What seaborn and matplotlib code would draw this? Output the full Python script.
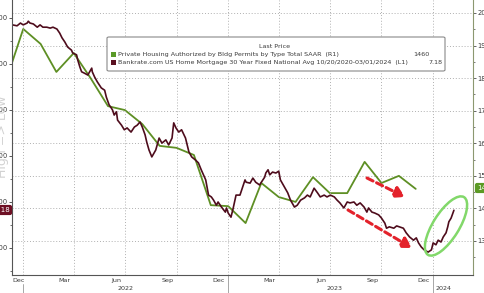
import matplotlib
matplotlib.use("Agg")
import matplotlib.pyplot as plt
import matplotlib.dates as mdates
import matplotlib.transforms as mtransforms
from matplotlib.patches import Ellipse, FancyBboxPatch, Rectangle
from matplotlib.ticker import NullFormatter, FixedLocator
import pandas as pd
import seaborn as sns

sns.set_style("white")
plt.rcParams['font.family'] = ['DejaVu Sans']

# ---------------- data ----------------
mort_dates = [
    "2021-12-13", "2021-12-21", "2021-12-27", "2022-01-01", "2022-01-08", "2022-01-10",
    "2022-01-13", "2022-01-19", "2022-01-26", "2022-01-31", "2022-02-05", "2022-02-12",
    "2022-02-18", "2022-02-23", "2022-03-02", "2022-03-07", "2022-03-11", "2022-03-16",
    "2022-03-21", "2022-03-28", "2022-03-30", "2022-04-06", "2022-04-08", "2022-04-12",
    "2022-04-15", "2022-04-20", "2022-04-26", "2022-05-03", "2022-05-04", "2022-05-08",
    "2022-05-13", "2022-05-20", "2022-05-26", "2022-05-29", "2022-06-03", "2022-06-07",
    "2022-06-09", "2022-06-12", "2022-06-16", "2022-06-18", "2022-06-25", "2022-06-30",
    "2022-07-05", "2022-07-12", "2022-07-18", "2022-07-23", "2022-07-28", "2022-08-01",
    "2022-08-06", "2022-08-09", "2022-08-13", "2022-08-18", "2022-08-25", "2022-08-31",
    "2022-09-05", "2022-09-12", "2022-09-17", "2022-09-23", "2022-09-26", "2022-09-30",
    "2022-10-05", "2022-10-10", "2022-10-17", "2022-10-23", "2022-10-28", "2022-11-04",
    "2022-11-09", "2022-11-14", "2022-11-22", "2022-11-27", "2022-12-02", "2022-12-06",
    "2022-12-11", "2022-12-14", "2022-12-20", "2022-12-27", "2022-12-29", "2023-01-01",
    "2023-01-06", "2023-01-10", "2023-01-13", "2023-01-15", "2023-01-22", "2023-01-27",
    "2023-01-31", "2023-02-02", "2023-02-09", "2023-02-14", "2023-02-19", "2023-02-26",
    "2023-02-28", "2023-03-07", "2023-03-09", "2023-03-13", "2023-03-16", "2023-03-21",
    "2023-03-27", "2023-04-01", "2023-04-04", "2023-04-11", "2023-04-17", "2023-04-22",
    "2023-04-29", "2023-05-04", "2023-05-10", "2023-05-17", "2023-05-22", "2023-05-27",
    "2023-06-03", "2023-06-09", "2023-06-14", "2023-06-21", "2023-06-26", "2023-07-02",
    "2023-07-09", "2023-07-14", "2023-07-19", "2023-07-26", "2023-08-01", "2023-08-06",
    "2023-08-13", "2023-08-18", "2023-08-24", "2023-08-31", "2023-09-05", "2023-09-08",
    "2023-09-14", "2023-09-19", "2023-09-26", "2023-10-01", "2023-10-07", "2023-10-10",
    "2023-10-15", "2023-10-23", "2023-10-28", "2023-11-02", "2023-11-09", "2023-11-14",
    "2023-11-20", "2023-11-27", "2023-12-02", "2023-12-06", "2023-12-11", "2023-12-16",
    "2023-12-23", "2023-12-29", "2024-01-01", "2024-01-06", "2024-01-10", "2024-01-15",
    "2024-01-19", "2024-01-24", "2024-01-27", "2024-01-29", "2024-02-02", "2024-02-07",
]
mort_rate = [
    3.15, 3.17, 3.11, 3.15, 3.11, 3.07,
    3.11, 3.13, 3.20, 3.15, 3.20, 3.20,
    3.22, 3.20, 3.24, 3.33, 3.43, 3.52,
    3.63, 3.70, 3.76, 3.80, 3.91, 4.07,
    4.17, 4.20, 4.24, 4.09, 4.17, 4.28,
    4.39, 4.52, 4.57, 4.72, 4.89, 4.96,
    5.00, 5.11, 5.04, 5.22, 5.33, 5.43,
    5.39, 5.48, 5.37, 5.33, 5.26, 5.37,
    5.54, 5.70, 5.87, 6.02, 5.87, 5.61,
    5.72, 5.65, 5.76, 5.61, 5.28, 5.39,
    5.48, 5.43, 5.61, 5.91, 6.02, 6.09,
    6.15, 6.30, 6.52, 6.85, 6.89, 6.96,
    7.07, 7.00, 7.11, 7.22, 7.13, 7.24,
    7.33, 7.13, 6.96, 6.85, 6.85, 6.67,
    6.52, 6.57, 6.59, 6.48, 6.57, 6.63,
    6.59, 6.46, 6.37, 6.30, 6.41, 6.35,
    6.37, 6.33, 6.52, 6.67, 6.80, 6.96,
    7.11, 7.07, 6.96, 6.91, 6.85, 6.89,
    6.70, 6.80, 6.89, 6.85, 6.89, 6.85,
    6.89, 6.96, 7.02, 7.13, 7.00, 7.02,
    7.00, 7.07, 7.02, 7.11, 7.22, 7.13,
    7.22, 7.24, 7.28, 7.35, 7.46, 7.57,
    7.54, 7.57, 7.52, 7.54, 7.57, 7.67,
    7.76, 7.83, 7.78, 7.89, 7.98, 8.04,
    8.09, 8.04, 7.89, 7.93, 7.83, 7.87,
    7.76, 7.67, 7.54, 7.43, 7.35, 7.18,
]
permit_dates = [
    "2021-12-01", "2022-01-01", "2022-02-01", "2022-03-01", "2022-04-01", "2022-05-01",
    "2022-06-01", "2022-07-01", "2022-08-01", "2022-09-01", "2022-10-01", "2022-11-01",
    "2022-12-01", "2023-01-01", "2023-02-01", "2023-03-01", "2023-04-01", "2023-05-01",
    "2023-06-01", "2023-07-01", "2023-08-01", "2023-09-01", "2023-10-01", "2023-11-01",
    "2023-12-01",
]
permit_vals = [
    1790, 1951, 1905, 1819, 1877, 1800,
    1714, 1702, 1659, 1592, 1586, 1564,
    1410, 1407, 1355, 1478, 1435, 1420,
    1496, 1447, 1447, 1543, 1478, 1500,
    1460,
]
left_ticks = [3, 4, 5, 6, 7, 8]
left_labels = ["3.00", "4.00", "5.00", "6.00", "7.00", "8.00"]
right_ticks = [1300, 1400, 1500, 1600, 1700, 1800, 1900, 2000]
right_labels = ["1300", "1400", "1500", "1600", "1700", "1800", "1900", "2000"]
month_labels = [("2021-12-24", "Dec"), ("2022-03-15", "Mar"), ("2022-06-15", "Jun"),
                ("2022-09-15", "Sep"), ("2022-12-15", "Dec"), ("2023-03-15", "Mar"),
                ("2023-06-15", "Jun"), ("2023-09-15", "Sep"), ("2023-12-15", "Dec")]
year_labels = [("2022-07-02", "2022"), ("2023-07-10", "2023"), ("2024-01-20", "2024")]
year_starts = ["2022-01-01", "2023-01-01", "2024-01-01"]
legend_rows = [
    ("Private Housing Authorized by Bldg Permits by Type Total SAAR  (R1)", "1460"),
    ("Bankrate.com US Home Mortgage 30 Year Fixed National Avg 10/20/2020-03/01/2024  (L1)", "7.18"),
]

GREEN = "#5e8f24"
MAROON = "#4e0c1c"
TXT = "#3a3a3a"
FS = 4.6

mort = pd.DataFrame({"date": pd.to_datetime(mort_dates), "rate": mort_rate})
perm = pd.DataFrame({"date": pd.to_datetime(permit_dates), "value": permit_vals})

W, H = 485, 293
fig = plt.figure(figsize=(W / 100, H / 100), dpi=100)
fig.patch.set_facecolor("white")
ax = fig.add_axes([12 / W, 18 / H, 461 / W, 275 / H])
ax2 = ax.twinx()

sns.lineplot(data=perm, x="date", y="value", ax=ax2, color=GREEN, linewidth=1.3)
sns.lineplot(data=mort, x="date", y="rate", ax=ax, color=MAROON, linewidth=1.2)

ax.set_zorder(ax2.get_zorder() + 1)
ax.patch.set_visible(False)
ax2.patch.set_visible(True)
ax2.patch.set_facecolor("white")

ax.set_xlim(pd.Timestamp("2021-12-12"), pd.Timestamp("2024-03-12"))
ax.set_ylim(8.587, 2.609)
ax2.set_ylim(1195.6, 2039.9)

for a in (ax, ax2):
    a.set_xlabel("")
    a.set_ylabel("")
    a.spines["top"].set_visible(False)

# x axis
ax.xaxis.set_major_locator(mdates.MonthLocator(bymonth=[1, 4, 7, 10]))
ax.xaxis.set_major_formatter(NullFormatter())
ax.xaxis.set_minor_locator(mdates.MonthLocator())
ax.tick_params(axis="x", which="major", direction="in", length=3, color="#666", width=0.6)
ax.tick_params(axis="x", which="minor", direction="in", length=2, color="#666", width=0.6)
ax.grid(axis="x", which="major", linestyle=(0, (1, 2)), color="#b0b0b0", linewidth=0.7)

# left axis
ax.set_yticks(left_ticks)
ax.set_yticklabels(left_labels)
ax.yaxis.set_minor_locator(FixedLocator([3.5, 4.5, 5.5, 6.5, 7.5, 8.5]))
ax.tick_params(axis="y", which="major", direction="out", length=2.5, width=0.7, color="#555",
               labelsize=FS + 0.3, labelcolor=TXT, pad=0.8)
ax.tick_params(axis="y", which="minor", direction="out", length=1.5, width=0.6, color="#555")

# right axis
ax2.set_yticks(right_ticks)
ax2.set_yticklabels(right_labels)
ax2.yaxis.set_minor_locator(FixedLocator([1250, 1350, 1450, 1550, 1650, 1750, 1850, 1950]))
ax2.tick_params(axis="y", which="major", direction="out", length=2.5, width=0.7, color="#666",
                labelsize=FS + 0.3, labelcolor=TXT, pad=0.8)
ax2.tick_params(axis="y", which="minor", direction="out", length=1.5, width=0.6, color="#666")
ax2.grid(axis="y", which="major", linestyle=(0, (1, 2)), color="#b0b0b0", linewidth=0.7)

for s in ("left", "bottom"):
    ax.spines[s].set_color("#555")
    ax.spines[s].set_linewidth(0.8)
ax.spines["right"].set_visible(False)
ax2.spines["left"].set_visible(False)
ax2.spines["bottom"].set_visible(False)
ax2.spines["right"].set_color("#8c9870")
ax2.spines["right"].set_linewidth(0.8)

# month and year labels
blend = mtransforms.blended_transform_factory(ax.transData, ax.transAxes)
for d, lab in month_labels:
    ax.text(pd.Timestamp(d), -5.5 / 275, lab, transform=blend, ha="center", va="center",
            fontsize=FS, color=TXT, clip_on=False)
for d, lab in year_labels:
    ax.text(pd.Timestamp(d), -14 / 275, lab, transform=blend, ha="center", va="center",
            fontsize=FS, color=TXT, clip_on=False)
for i, d in enumerate(year_starts):
    y0 = -9 / 275 if i == 0 else 0
    ax.plot([pd.Timestamp(d)] * 2, [y0, -18 / 275], transform=blend, color="#999",
            linewidth=0.6, clip_on=False)


def P(x, y):
    return (x / W, 1 - y / H)


# "High => Low" watermark
fig.text(*P(3, 137), "High => Low", rotation=90, ha="center", va="center",
         fontsize=9, color="#d2d2d2")

# last-value tags
fig.text(*P(10, 210), "7.18", ha="right", va="center", fontsize=FS + 0.4, color="white",
         bbox=dict(boxstyle="round,pad=0.3", fc="#6e1024", ec="none"))
fig.text(*P(477, 188), "1460", ha="left", va="center", fontsize=FS + 0.4, color="white",
         bbox=dict(boxstyle="round,pad=0.3", fc="#5c9a24", ec="none"))

# legend box
x0, y0, x1, y1 = 107, 37, 445, 71
box = FancyBboxPatch(P(x0, y1), (x1 - x0) / W, (y1 - y0) / H,
                     boxstyle="round,pad=0,rounding_size=0.004", transform=fig.transFigure,
                     fc="white", ec="#8a8a8a", lw=0.8, zorder=10)
fig.add_artist(box)
fig.text(*P(275, 46.5), "Last Price", ha="center", va="center", fontsize=FS, color=TXT,
         zorder=11)
row_y = [54.3, 62.7]
sq_col = ["#5a9a28", "#5a1020"]
val_right = [429, 442]
for (lab, val), yy, c, vr in zip(legend_rows, row_y, sq_col, val_right):
    sq = Rectangle(P(111.5, yy + 2.5), 5 / W, 5 / H, transform=fig.transFigure,
                   fc=c, ec="none", zorder=11)
    fig.add_artist(sq)
    fig.text(*P(118.5, yy), lab, ha="left", va="center", fontsize=FS, color=TXT, zorder=11)
    fig.text(*P(vr, yy), val, ha="right", va="center", fontsize=FS, color=TXT, zorder=11)

# red dashed arrows
for (xs, ys), (xe, ye) in [((367, 178), (405, 197)), ((348, 210), (412, 248))]:
    ax.annotate("", xy=(xe, H - ye), xycoords="figure pixels",
                xytext=(xs, H - ys), textcoords="figure pixels",
                arrowprops=dict(arrowstyle="-|>,head_length=0.6,head_width=0.35",
                                linestyle=(0, (2.2, 1.3)), lw=2.2, color="#e3222b",
                                shrinkA=0, shrinkB=0))

# green ellipse highlight
ell = Ellipse((446 / 100, (H - 226) / 100), 0.68, 0.26, angle=58,
              transform=fig.dpi_scale_trans, fill=False, ec="#82d86a", lw=1.8, zorder=12)
fig.add_artist(ell)

fig.savefig("out.png", dpi=100, facecolor="white")
